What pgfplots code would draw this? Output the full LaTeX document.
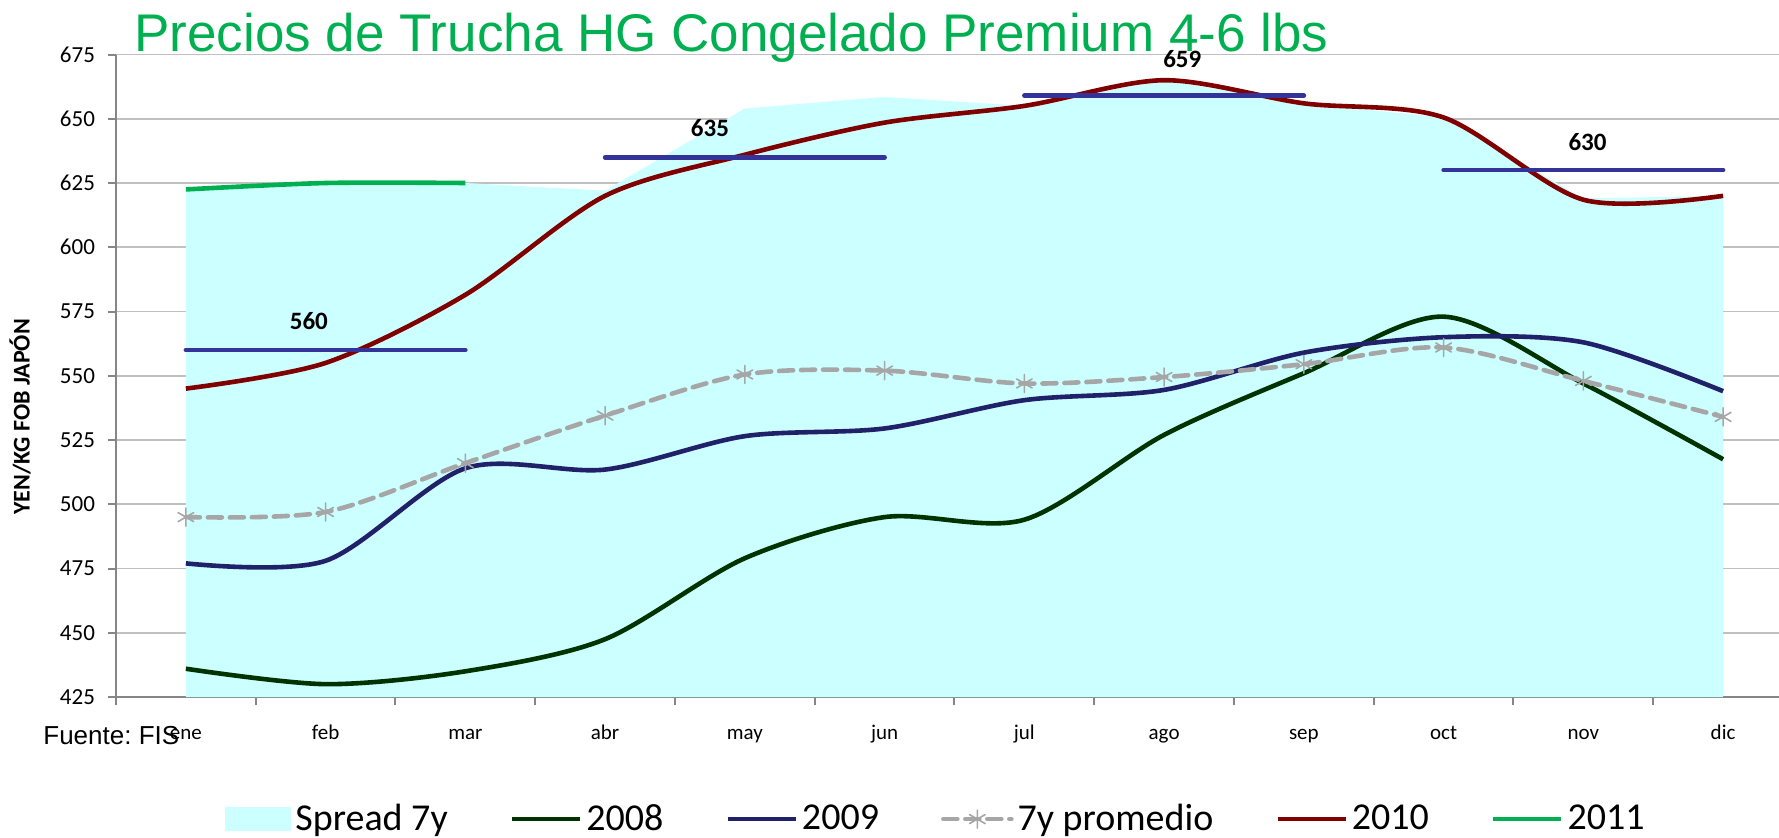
\documentclass[border=0pt]{standalone}
\usepackage{pgfplots}
\pgfplotsset{compat=1.18}
\usepackage{fontspec}
\setmainfont{Carlito}
\newfontfamily\arialf{Liberation Sans}
\definecolor{spread}{HTML}{CCFFFF}
\definecolor{c2008}{HTML}{003300}
\definecolor{c2009}{HTML}{21216A}
\definecolor{cprom}{HTML}{A6A6A6}
\definecolor{c2010}{HTML}{800000}
\definecolor{c2011}{HTML}{00B050}
\definecolor{qblue}{HTML}{333399}
\definecolor{gridgray}{HTML}{C0C0C0}
\definecolor{axgray}{HTML}{868686}
\begin{document}
\frenchspacing
\begin{tikzpicture}
\begin{axis}[
  name=ax, at={(0,0)}, anchor=south west,
  width=831.5pt, height=321.25pt, scale only axis,
  xmin=-0.5, xmax=11.4, ymin=425, ymax=675,
  clip=false,
  ytick={425,450,...,675},
  xtick={-0.5,0.5,...,10.5}, xticklabels={},
  extra x ticks={0,1,...,11},
  extra x tick labels={ene,feb,mar,abr,may,jun,jul,ago,sep,oct,nov,dic},
  extra x tick style={major tick length=0pt, grid=none, xticklabel style={anchor=base, yshift=-21pt}},
  ymajorgrids, grid style={color=gridgray, line width=0.8pt},
  axis x line*=bottom, axis y line*=left,
  axis line style={-, color=axgray, line width=1pt},
  tick style={color=axgray, line width=1pt},
  tick align=outside, major tick length=4pt,
  /pgf/number format/assume math mode=true,
  yticklabel style={font=\fontsize{11.5}{12}\selectfont, xshift=-3pt},
  xticklabel style={font=\fontsize{10.5}{12}\selectfont},
  legend style={at={(axis description cs:0.4937,-0.19)}, anchor=center, draw=none, fill=none,
    legend columns=-1, font=\fontsize{19}{20}\selectfont,
    nodes={inner sep=2pt},
    /tikz/every even column/.append style={column sep=29pt}},
  legend image code/.code={\draw[mark repeat=2,mark phase=2,#1] plot coordinates {(0pt,0pt) (17pt,0pt) (34pt,0pt)};},
]
\addplot[fill=spread, draw=none, legend image code/.code={\fill[spread] (0pt,-6pt) rectangle (33pt,6pt);}]
  coordinates {(0,425)(0,622.5)(1,625)(2,625)(3,622)(4,654)(5,658.5)(6,655)(7,665)(8,656)(9,650.5)(10,619)(11,620)(11,425)} -- cycle;
\addlegendentry{Spread 7y}
\addplot[c2008, line width=2.3pt, smooth, tension=0.5]
  coordinates {(0,436)(1,430)(2,435)(3,447.5)(4,479)(5,495)(6,494)(7,527)(8,551)(9,573)(10,547)(11,517.5)};
\addlegendentry{2008}
\addplot[c2009, line width=2.3pt, smooth, tension=0.5]
  coordinates {(0,477)(1,478)(2,514)(3,513.5)(4,526.5)(5,529.5)(6,540.5)(7,544.5)(8,559)(9,565)(10,563)(11,544)};
\addlegendentry{2009}
\addplot[cprom, line width=2.3pt, smooth, tension=0.5, dash pattern=on 7pt off 4pt, line cap=round,
  mark=asterisk, mark size=4.5pt, mark options={solid, line width=0.8pt, cprom}]
  coordinates {(0,495)(1,497)(2,516)(3,534.5)(4,550.5)(5,552)(6,547)(7,549.5)(8,554.5)(9,561)(10,548)(11,534)};
\addlegendentry{7y promedio}
\addplot[c2010, line width=2.3pt, smooth, tension=0.5]
  coordinates {(0,545)(1,555)(2,581.5)(3,620)(4,636)(5,648.5)(6,655)(7,665)(8,656)(9,650.5)(10,618.5)(11,620)};
\addlegendentry{2010}
\addplot[c2011, line width=2.3pt, smooth, tension=0.5]
  coordinates {(0,622.5)(1,625)(2,625)};
\addlegendentry{2011}
\addplot[qblue, line width=2.3pt, line cap=round, forget plot] coordinates {(0,560)(2,560)};
\addplot[qblue, line width=2.3pt, line cap=round, forget plot] coordinates {(3,635)(5,635)};
\addplot[qblue, line width=2.3pt, line cap=round, forget plot] coordinates {(6,659)(8,659)};
\addplot[qblue, line width=2.3pt, line cap=round, forget plot] coordinates {(9,630)(11,630)};
\node[font=\bfseries\fontsize{12.5}{13}\selectfont] at (axis cs:0.88,571.2) {560};
\node[font=\bfseries\fontsize{12.5}{13}\selectfont] at (axis cs:3.75,646.3) {635};
\node[font=\bfseries\fontsize{12.5}{13}\selectfont] at (axis cs:7.13,673.2) {659};
\node[font=\bfseries\fontsize{12.5}{13}\selectfont] at (axis cs:10.03,641) {630};
\end{axis}
\node[anchor=base west, font=\arialf\fontsize{26.5}{28}\selectfont, text=c2011, inner sep=0pt] at (9pt,323pt) {Precios de Trucha HG Congelado Premium 4-6 lbs};
\node[anchor=base west, font=\arialf\fontsize{13}{14}\selectfont, inner sep=0pt] at (-36.5pt,-23.5pt) {Fuente: FIS};
\node[rotate=90, font=\bfseries\fontsize{12}{13}\selectfont] at (-48pt,140pt) {YEN/KG FOB JAPÓN};
\pgfresetboundingbox
\path[use as bounding box] (-58pt,-70pt) rectangle (831.5pt,348.5pt);
\end{tikzpicture}
\end{document}
